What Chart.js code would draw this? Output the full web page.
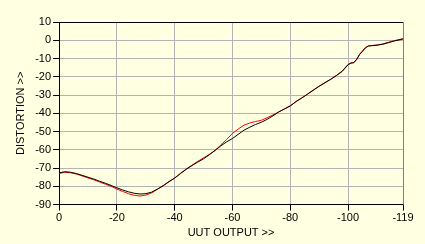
<!DOCTYPE html>
<html><head><meta charset="utf-8">
<script src="https://cdn.jsdelivr.net/npm/chart.js@4"></script>
<style>html,body{margin:0;padding:0;background:#FFFFE1;}#wrap{width:425px;height:244px;}</style>
</head><body><div id="wrap"><canvas id="c" width="425" height="244"></canvas></div>
<script>
const outputLevels = [0,-2,-4,-6,-8,-10,-12,-14,-16,-18,-20,-22,-24,-26,-28,-30,-32,-34,-36,-38,-40,-42,-44,-46,-48,-50,-52,-54,-56,-58,-60,-62,-64,-66,-68,-70,-72,-74,-76,-78,-80,-82,-84,-86,-88,-90,-92,-94,-96,-98,-100,-101,-102,-103,-104,-105,-106,-107,-108,-110,-112,-114,-116,-118,-119];
const distortionBlack = [-72.6,-72.0,-72.3,-73.0,-74.0,-75.0,-76.0,-77.2,-78.3,-79.5,-80.8,-82.0,-83.0,-83.8,-84.2,-84.0,-83.2,-81.5,-79.7,-77.5,-75.5,-73.0,-70.7,-68.6,-66.7,-64.9,-62.7,-60.3,-57.8,-55.6,-53.8,-51.5,-49.2,-47.6,-46.1,-44.9,-43.3,-41.4,-39.3,-37.6,-36.0,-33.6,-31.6,-29.5,-27.3,-25.2,-23.3,-21.4,-19.3,-17.0,-13.4,-12.5,-12.3,-10.5,-7.8,-6.0,-4.2,-3.2,-3.0,-2.7,-2.2,-1.3,-0.4,0.3,0.7];
const distortionRed = [-73.0,-72.3,-72.6,-73.3,-74.3,-75.4,-76.4,-77.6,-78.8,-80.0,-81.5,-82.8,-84.0,-84.9,-85.3,-84.8,-83.6,-81.7,-79.6,-77.4,-75.4,-72.9,-70.5,-68.4,-66.3,-64.4,-62.5,-60.3,-57.3,-54.3,-51.0,-48.6,-46.5,-45.3,-44.5,-43.8,-42.4,-40.9,-39.2,-37.6,-35.9,-33.5,-31.5,-29.4,-27.2,-25.1,-23.2,-21.3,-19.2,-16.8,-13.2,-12.4,-12.2,-10.3,-7.6,-5.8,-4.0,-3.1,-2.9,-2.6,-2.0,-1.1,-0.2,0.5,0.9];
const xTickValues = [0,-20,-40,-60,-80,-100,-119];
const yTickValues = [10,0,-10,-20,-30,-40,-50,-60,-70,-80,-90];

const toPts = arr => arr.map((v,i)=>({x: outputLevels[i], y: v}));
const font = {family: '"Liberation Sans", Arial, sans-serif', size: 11};

const frame = {
  id: 'frame',
  afterDraw(chart){
    const a = chart.chartArea, ctx = chart.ctx;
    ctx.save();
    ctx.lineWidth = 1;
    ctx.strokeStyle = '#000';
    ctx.beginPath(); ctx.moveTo(a.left, a.top+0.5); ctx.lineTo(a.right, a.top+0.5); ctx.stroke();
    ctx.strokeStyle = '#808080';
    ctx.beginPath(); ctx.moveTo(a.right+0.5, a.top); ctx.lineTo(a.right+0.5, a.bottom); ctx.stroke();
    ctx.restore();
  }
};

new Chart(document.getElementById('c'), {
  type: 'line',
  data: {datasets: [
    {label: 'black', data: toPts(distortionBlack), borderColor: '#000000', borderWidth: 1, pointRadius: 0, tension: 0, fill: false},
    {label: 'red', data: toPts(distortionRed), borderColor: '#FF0000', borderWidth: 1, pointRadius: 0, tension: 0, fill: false}
  ]},
  options: {
    responsive: false, animation: false, devicePixelRatio: 1,
    layout: {padding: {top: 22, right: 22, left: 14, bottom: 0}},
    plugins: {legend: {display: false}, tooltip: {enabled: false}},
    scales: {
      x: {
        type: 'linear', min: -119, max: 0, reverse: true,
        afterBuildTicks: s => { s.ticks = xTickValues.map(v=>({value: v})); },
        grid: {color: '#B4B4B4', tickColor: '#000', tickLength: 6, lineWidth: 1},
        border: {color: '#000', width: 1},
        ticks: {font, color: '#000', padding: 1, maxRotation: 0, autoSkip: false},
        title: {display: true, text: 'UUT OUTPUT >>', font, color: '#000', padding: {top: 1, bottom: 4}}
      },
      y: {
        type: 'linear', min: -90, max: 10,
        afterBuildTicks: s => { s.ticks = yTickValues.map(v=>({value: v})); },
        grid: {color: '#B4B4B4', tickColor: '#000', tickLength: 6, lineWidth: 1},
        border: {color: '#000', width: 1},
        ticks: {font, color: '#000', padding: 2, autoSkip: false},
        title: {display: true, text: 'DISTORTION >>', font, color: '#000', padding: {top: 0, bottom: 6}}
      }
    }
  },
  plugins: [frame]
});
</script></body></html>
